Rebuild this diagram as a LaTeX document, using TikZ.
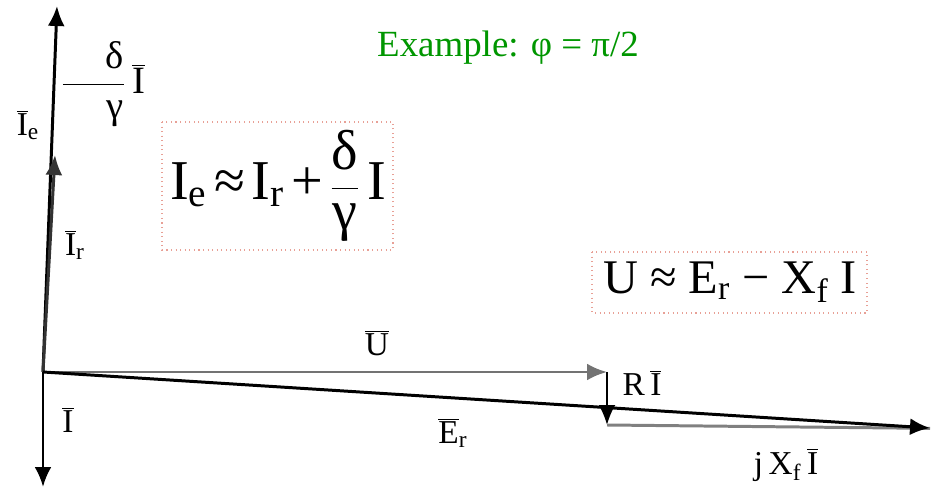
\documentclass[tikz,border=0pt]{standalone}
\usepackage{fontspec}
\setmainfont{Liberation Serif}
\usetikzlibrary{arrows.meta}
\definecolor{titlegreen}{RGB}{0,150,0}
\definecolor{boxpink}{RGB}{232,160,150}
\newcommand{\barv}[1]{$\overline{\mbox{#1}}$}
\newcommand{\tsp}{\hspace{0.12em}}
\begin{document}
\begin{tikzpicture}[x=0.02cm, y=-0.02cm]
    \tikzstyle{vec}=[line width=1.7pt, -{Latex[length=4mm,width=3.4mm]}]
    \tikzstyle{lab}=[inner sep=0pt, font=\fontsize{19}{22}\selectfont]
    \tikzstyle{eqbox}=[draw=boxpink, dotted, line width=0.6pt, inner sep=0pt]
    \useasboundingbox (0,0) rectangle (936,489);
    % vector tips
    \coordinate (o) at (43,372);
    \coordinate (i) at (43,487);
    \coordinate (ir) at (55,155);
    \coordinate (ie) at (57,6);
    \coordinate (u) at (607,372);
    \coordinate (ri) at (607,425);
    \coordinate (er) at (930,428);
    \draw[vec] (o) -- (i);
    \draw[vec] (o) -- (ie);
    \draw[vec, black!80] (o) -- (ir);
    \draw[vec, black!55] (o) -- (u);
    \draw[vec, line width=1.4pt] (u) -- (ri);
    \draw[line width=1.7pt, black!50] (ri) -- ([yshift=-0.2pt]er);
    \draw[vec] (o) -- (er);
    % labels of the vectors
    \node[lab] (lie) at (28,125) {\barv{I}\textsubscript{e}};
    \node[lab, font=\fontsize{22}{26}\selectfont] (ldi) at (103,84) {$\displaystyle\frac{\mbox{\hspace{1.1em}δ}}{\mbox{\hspace{1.1em}γ}}$\,\barv{I}};
    \node[lab] (lir) at (75,245) {\barv{I}\textsubscript{r}};
    \node[lab] (li) at (68,420) {\barv{I}};
    \node[lab] (lu) at (377,343) {\barv{U}};
    \node[lab] (ler) at (453,433) {\barv{E}\textsubscript{r}};
    \node[lab] (lri) at (642,383) {R\,\barv{I}};
    \node[lab] (ljx) at (786,465) {j\,X\textsubscript{f}\,\barv{I}};
    % title and formulas
    \node[text=titlegreen, font=\fontsize{21}{25}\selectfont] (title) at (508,48) {Example: φ = π/2};
    \draw[eqbox] (162,122) rectangle (393,250);
    \node[font=\fontsize{32}{38}\selectfont] (eqa) at (278,186) {I\textsubscript{e}\tsp≈\tsp I\textsubscript{r}\tsp+\tsp$\displaystyle\frac{\mbox{δ}}{\mbox{γ}}$\tsp I};
    \draw[eqbox] (592,252) rectangle (867,313);
    \node[font=\fontsize{27.5}{33}\selectfont] (eqb) at (730,282) {U ≈ E\textsubscript{r} − X\textsubscript{f} I};
\end{tikzpicture}
\end{document}
